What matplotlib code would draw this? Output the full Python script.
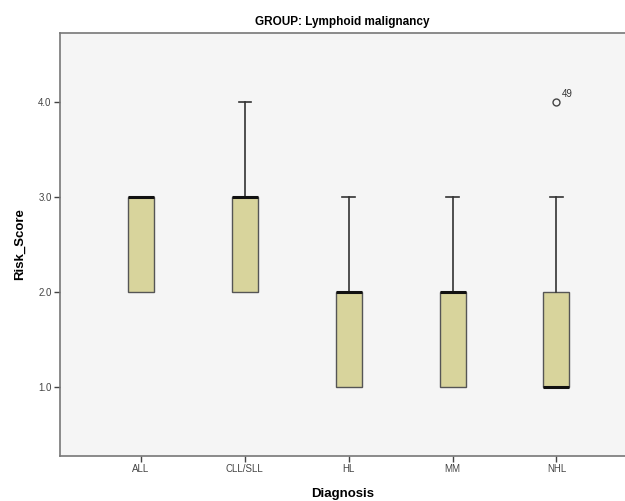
import matplotlib
matplotlib.use("Agg")
import matplotlib.pyplot as plt

plt.rcParams['font.family'] = ['Liberation Sans', 'DejaVu Sans']

# Data
diagnoses = ["ALL", "CLL/SLL", "HL", "MM", "NHL"]
q1 = [2, 2, 1, 1, 1]
medians = [3, 3, 2, 2, 1]
q3 = [3, 3, 2, 2, 2]
whisker_low = [2, 2, 1, 1, 1]
whisker_high = [3, 4, 3, 3, 3]
outliers = [[], [], [], [], [4]]
outlier_ids = [[], [], [], [], ["49"]]

stats = []
for i, name in enumerate(diagnoses):
    stats.append({
        "label": name,
        "q1": q1[i], "med": medians[i], "q3": q3[i],
        "whislo": whisker_low[i], "whishi": whisker_high[i],
        "fliers": outliers[i],
    })

fig = plt.figure(figsize=(6.25, 5.01), dpi=100)
ax = fig.add_axes([0.096, 0.09, 0.904, 0.844])
ax.set_facecolor("#f5f5f5")

positions = list(range(len(diagnoses)))
parts = ax.bxp(stats, positions=positions, widths=0.25, patch_artist=True,
               boxprops=dict(facecolor="#d8d49c", edgecolor="#555555", linewidth=1.0),
               medianprops=dict(color="#111111", linewidth=2.2),
               whiskerprops=dict(color="#333333", linewidth=1.2),
               capprops=dict(color="#333333", linewidth=1.2),
               capwidths=0.12,
               flierprops=dict(marker="o", markerfacecolor="none", markeredgecolor="#444444",
                               markersize=5, markeredgewidth=1.0))

# SPSS draws no cap when the whisker has zero length
for i in range(len(diagnoses)):
    if whisker_low[i] == q1[i]:
        parts["caps"][2 * i].set_visible(False)
    if whisker_high[i] == q3[i]:
        parts["caps"][2 * i + 1].set_visible(False)

for i, pts in enumerate(outliers):
    for v, lab in zip(pts, outlier_ids[i]):
        ax.annotate(lab, (positions[i], v), xytext=(4, 4), textcoords="offset points",
                    fontsize=7, color="#333333")

ax.set_xlim(-0.78, 4.66)
ax.set_ylim(0.27, 4.73)
ax.set_yticks([1, 2, 3, 4])
ax.set_yticklabels(["1.0", "2.0", "3.0", "4.0"])
ax.set_xticks(positions)
ax.set_xticklabels(diagnoses)
ax.tick_params(axis="both", labelsize=7, colors="#444444", length=4, width=1, pad=2)

for side in ["left", "bottom", "top"]:
    ax.spines[side].set_color("#777777")
    ax.spines[side].set_linewidth(1.2)
ax.spines["right"].set_visible(False)

ax.set_title("GROUP: Lymphoid malignancy", fontsize=8.5, fontweight="bold", pad=6)
ax.set_xlabel("Diagnosis", fontsize=9.5, fontweight="bold", labelpad=10)
ax.set_ylabel("Risk_Score", fontsize=9.5, fontweight="bold", labelpad=9)

fig.savefig("out.png", dpi=100)
